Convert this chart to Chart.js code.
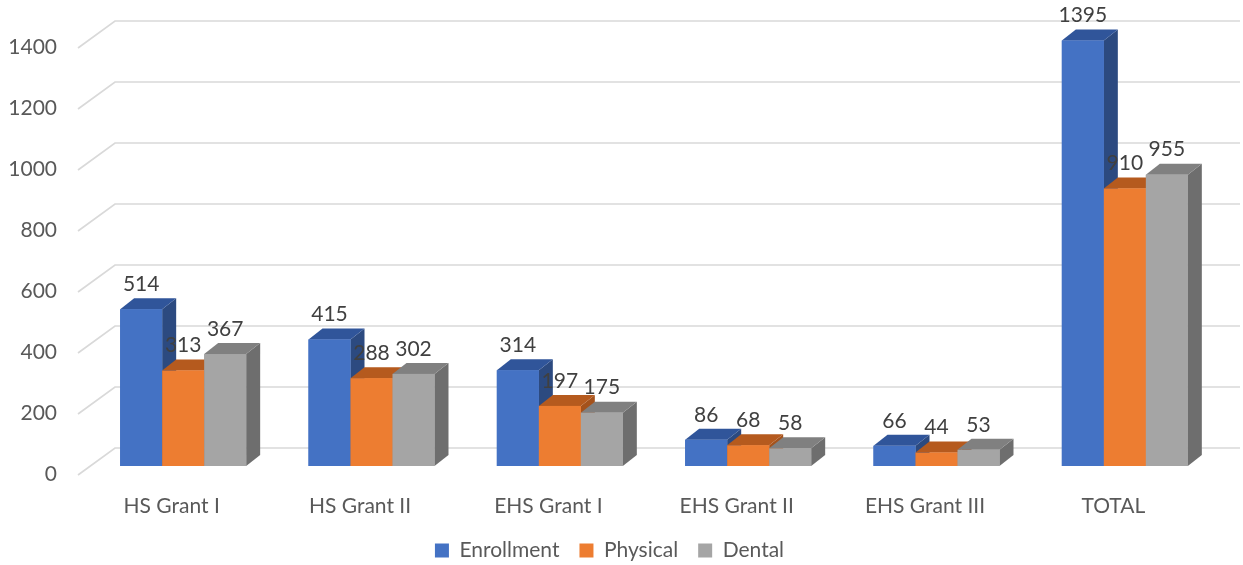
<!DOCTYPE html>
<html>
<head>
<meta charset="utf-8">
<script src="https://cdn.jsdelivr.net/npm/chart.js@4/dist/chart.umd.min.js"></script>
<style>
  html, body { margin: 0; padding: 0; background: #fff; }
  #wrap { width: 1243px; height: 565px; }
</style>
</head>
<body>
<div id="wrap"><canvas id="chart" width="1243" height="565"></canvas></div>
<script>
const categories = ['HS Grant I', 'HS Grant II', 'EHS Grant I', 'EHS Grant II', 'EHS Grant III', 'TOTAL'];
const enrollment = [514, 415, 314, 86, 66, 1395];
const physical = [313, 288, 197, 68, 44, 910];
const dental = [367, 302, 175, 58, 53, 955];
const yTicks = [0, 200, 400, 600, 800, 1000, 1200, 1400];

const FONT = 'Lato, "Open Sans", sans-serif';
const DEPTH_X = 14;
const DEPTH_Y = -11;

// front, top, side colours per series
const faces = [
  { front: '#4472C4', top: '#30559A', side: '#2C4A80' },
  { front: '#ED7D31', top: '#B55A1E', side: '#A4521C' },
  { front: '#A5A5A5', top: '#808080', side: '#6E6E6E' }
];

// back wall gridlines with the little floor diagonal in front
const backWall = {
  id: 'backWall',
  beforeDatasetsDraw(chart) {
    const { ctx, chartArea, scales } = chart;
    ctx.save();
    ctx.strokeStyle = '#D9D9D9';
    ctx.lineWidth = 1.7;
    yTicks.forEach(v => {
      const y = scales.y.getPixelForValue(v);
      ctx.beginPath();
      ctx.moveTo(chartArea.left - 11, y + 9);
      ctx.lineTo(chartArea.left + 26, y - 18);
      ctx.lineTo(chart.width - 3, y - 18);
      ctx.stroke();
    });
    ctx.restore();
  }
};

// extrude the bars and put the value labels on top
const bars3d = {
  id: 'bars3d',
  afterDatasetsDraw(chart) {
    const { ctx } = chart;
    const metas = chart.data.datasets.map((d, i) => chart.getDatasetMeta(i));
    ctx.save();
    categories.forEach((c, ci) => {
      metas.forEach((meta, di) => {
        const el = meta.data[ci];
        const { x, y, base, width } = el.getProps(['x', 'y', 'base', 'width'], true);
        const l = x - width / 2, r = x + width / 2;
        const f = faces[di];
        // side
        ctx.fillStyle = f.side;
        ctx.beginPath();
        ctx.moveTo(r, y);
        ctx.lineTo(r + DEPTH_X, y + DEPTH_Y);
        ctx.lineTo(r + DEPTH_X, base + DEPTH_Y);
        ctx.lineTo(r, base);
        ctx.closePath();
        ctx.fill();
        // top
        ctx.fillStyle = f.top;
        ctx.beginPath();
        ctx.moveTo(l, y);
        ctx.lineTo(l + DEPTH_X, y + DEPTH_Y);
        ctx.lineTo(r + DEPTH_X, y + DEPTH_Y);
        ctx.lineTo(r, y);
        ctx.closePath();
        ctx.fill();
        // front
        ctx.fillStyle = f.front;
        ctx.fillRect(l, y, width, base - y);
      });
    });
    ctx.fillStyle = '#404040';
    ctx.font = '21px ' + FONT;
    ctx.textAlign = 'center';
    ctx.textBaseline = 'middle';
    metas.forEach((meta, di) => {
      const values = chart.data.datasets[di].data;
      meta.data.forEach((el, i) => {
        const { x, y } = el.getProps(['x', 'y'], true);
        ctx.fillText(String(values[i]), x, y - 25);
      });
    });
    ctx.restore();
  }
};

new Chart(document.getElementById('chart'), {
  type: 'bar',
  data: {
    labels: categories,
    datasets: [
      { label: 'Enrollment', data: enrollment, backgroundColor: faces[0].front },
      { label: 'Physical', data: physical, backgroundColor: faces[1].front },
      { label: 'Dental', data: dental, backgroundColor: faces[2].front }
    ]
  },
  options: {
    responsive: false,
    animation: false,
    devicePixelRatio: 1,
    layout: { padding: { top: 39, right: 24, bottom: -6, left: 0 } },
    datasets: {
      bar: { categoryPercentage: 0.669, barPercentage: 1 }
    },
    scales: {
      x: {
        grid: { display: false },
        border: { display: false },
        ticks: { color: '#595959', font: { family: FONT, size: 21 }, padding: 20, labelOffset: -11.5, maxRotation: 0 },
        afterFit(scale) { scale.height = 54; }
      },
      y: {
        min: 0,
        max: 1400,
        grid: { display: false },
        border: { display: false },
        ticks: {
          stepSize: 200,
          color: '#595959',
          font: { family: FONT, size: 21 },
          padding: 24,
          labelOffset: 8,
          callback: v => String(v)
        },
        afterFit(scale) {
          scale.width = 89;
          scale.paddingTop = 0;
        }
      }
    },
    plugins: {
      legend: {
        position: 'bottom',
        labels: {
          color: '#595959',
          font: { family: FONT, size: 21 },
          boxWidth: 14,
          boxHeight: 14,
          padding: 20
        }
      },
      tooltip: { enabled: false }
    }
  },
  plugins: [backWall, bars3d]
});
</script>
</body>
</html>
